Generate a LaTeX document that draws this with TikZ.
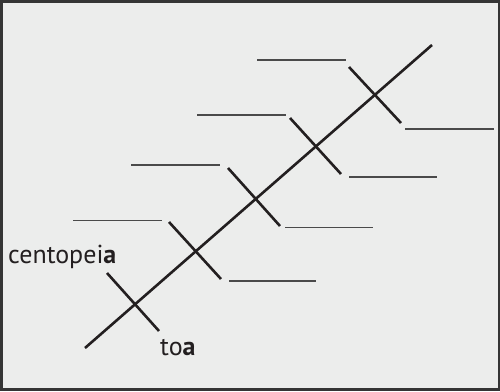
\documentclass[tikz,border=0pt]{standalone}
\usepackage{fontspec}
\setmainfont{PT Sans}
\definecolor{bg}{HTML}{ECEDEC}
\definecolor{frame}{HTML}{353535}
\definecolor{ink}{HTML}{231F20}
\definecolor{rule}{HTML}{4A4A4A}
\tikzset{
  spine/.style={draw=ink, line width=2.6pt},
  bone/.style={draw=ink, line width=2.6pt},
  blank/.style={draw=rule, line width=1.6pt},
  lbl/.style={anchor=base west, inner sep=0pt, text=ink, font=\fontsize{26}{31}\selectfont}
}
\begin{document}
\begin{tikzpicture}[x=1pt,y=-1pt]
\useasboundingbox (0,0) rectangle (500,391);
\fill[frame] (0,0) rectangle (500,391);
\fill[bg] (3,3) rectangle (498,387.5);
% spine
\coordinate (s0) at (85,348);
\coordinate (s1) at (432,45);
\draw[spine] (s0) -- (s1);
% crossings
\coordinate (c1) at (135,305);
\coordinate (c2) at (195,252);
\coordinate (c3) at (255,199);
\coordinate (c4) at (316,147);
\coordinate (c5) at (374,95);
% bones
\coordinate (a1) at (107,273); \coordinate (b1) at (159,331);
\coordinate (a2) at (169,222); \coordinate (b2) at (221,279);
\coordinate (a3) at (228,168); \coordinate (b3) at (280,226);
\coordinate (a4) at (290,118); \coordinate (b4) at (341,174);
\coordinate (a5) at (349,67);  \coordinate (b5) at (401,123);
\foreach \i in {1,...,5}{\draw[bone] (a\i) -- (b\i);}
% blanks left
\coordinate (l2a) at (73,220.5);  \coordinate (l2b) at (162,220.5);
\coordinate (l3a) at (131,165);   \coordinate (l3b) at (220,165);
\coordinate (l4a) at (197,115);   \coordinate (l4b) at (286,115);
\coordinate (l5a) at (257,60);    \coordinate (l5b) at (346,60);
% blanks right
\coordinate (r2a) at (229,281);   \coordinate (r2b) at (316,281);
\coordinate (r3a) at (285,227.5); \coordinate (r3b) at (373,227.5);
\coordinate (r4a) at (349,177);   \coordinate (r4b) at (437,177);
\coordinate (r5a) at (405,129);   \coordinate (r5b) at (494,129);
\foreach \i in {2,...,5}{\draw[blank] (l\i a) -- (l\i b); \draw[blank] (r\i a) -- (r\i b);}
% labels
\node[lbl] (w1) at (8,263) {centopei\textbf{a}};
\node[lbl] (w2) at (160,355) {to\textbf{a}};
\end{tikzpicture}
\end{document}
